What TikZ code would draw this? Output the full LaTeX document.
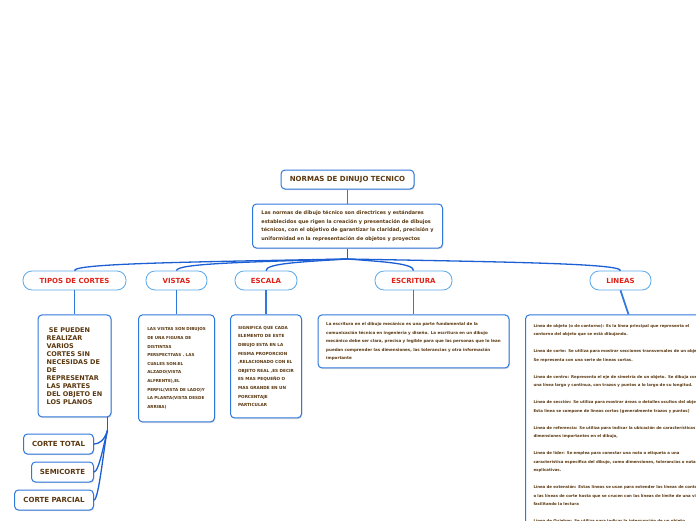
\documentclass[tikz,border=0pt]{standalone}
\usepackage{fontspec}
\setmainfont{DejaVu Sans}
\usepackage{xcolor}
\usetikzlibrary{positioning, calc, shadows}

\definecolor{boxblue}{HTML}{2F78DC}
\definecolor{pillblue}{HTML}{5AA8EA}
\definecolor{linkblue}{HTML}{1C5FD4}
\definecolor{txtbrown}{HTML}{5A3810}
\definecolor{txtred}{HTML}{E0231A}

\begin{document}
\begin{tikzpicture}[
  x=1pt, y=-1pt,
  node distance=14pt,
  soft/.style={drop shadow={shadow xshift=0.8pt, shadow yshift=-1.2pt, opacity=0.25, fill=black!60}},
  topic/.style={rectangle, rounded corners=4pt, draw=boxblue, line width=1pt, fill=white, soft,
                minimum width=133pt, minimum height=19pt, inner sep=2pt,
                font=\bfseries\fontsize{7}{8}\selectfont, text=txtbrown},
  intro/.style={rectangle, rounded corners=4pt, draw=boxblue, line width=1pt, fill=white, soft,
                minimum width=190pt, minimum height=44pt, align=left, inner xsep=4pt,
                font=\bfseries\fontsize{4.95}{8.9}\selectfont, text=txtbrown},
  branch/.style={rectangle, rounded corners=9pt, draw=pillblue, line width=0.8pt, fill=white,
                 minimum height=19pt, inner sep=2pt,
                 font=\bfseries\fontsize{7}{8}\selectfont, text=txtred},
  leaf/.style={rectangle, rounded corners=4pt, draw=boxblue, line width=1pt, fill=white, soft,
               align=left, inner xsep=3pt, text=txtbrown, font=\bfseries\fontsize{4.1}{8.6}\selectfont},
  cut/.style={rectangle, rounded corners=4pt, draw=boxblue, line width=1pt, fill=white, soft,
              minimum height=20pt, anchor=east, inner sep=2pt,
              font=\bfseries\fontsize{7}{8}\selectfont, text=txtbrown},
  link/.style={draw=linkblue, line width=1.3pt},
  stem/.style={draw=boxblue, line width=1.7pt}
]
  \useasboundingbox (0,0) rectangle (696,520);
  \clip (0,0) rectangle (696,520);

  % centro
  \node[topic] (title) at (347.5,179.5) {NORMAS DE DINUJO TECNICO};
  \node[intro, below=of title] (intro) {Las normas de dibujo técnico son directrices y estándares\\
    establecidos que rigen la creación y presentación de dibujos\\
    técnicos, con el objetivo de garantizar la claridad, precisión y\\
    uniformidad en la representación de objetos y proyectos};
  \coordinate (hub) at (347.5,259);

  % ramas
  \node[branch, minimum width=103pt] (tipos) at (74.5,280.5) {TIPOS DE CORTES};
  \node[branch, minimum width=61pt] (vistas) at (176.5,280.5) {VISTAS};
  \node[branch, minimum width=62pt] (escala) at (266,280.5) {ESCALA};
  \node[branch, minimum width=77pt] (escritura) at (413.5,280.5) {ESCRITURA};
  \node[branch, minimum width=61pt] (lineas) at (620.5,280.5) {LINEAS};

  % contenidos
  \node[leaf, below=24pt of tipos, minimum width=73pt, minimum height=102pt,
        font=\bfseries\fontsize{6.5}{8}\selectfont] (tiposdesc) {~SE PUEDEN\\ REALIZAR\\ VARIOS\\
    CORTES SIN\\ NECESIDAS DE\\ DE\\ REPRESENTAR\\ LAS PARTES\\ DEL OBJETO EN\\ LOS PLANOS};
  \node[leaf, below=24pt of vistas, minimum width=76pt, minimum height=107pt] (vistasdesc) {LAS VISTAS SON DIBUJOS\\
    DE UNA FIGURA DE\\ DISTINTAS\\ PERSPECTIVAS . LAS\\ CUALES SON:EL\\ ALZADO(VISTA\\
    ALFRENTE),EL\\ PERFIL(VISTA DE LADO)Y\\ LA PLANTA(VISTA DESDE\\ ARRIBA)};
  \node[leaf, below=24pt of escala, minimum width=71pt, minimum height=103pt,
        font=\bfseries\fontsize{4.2}{8.6}\selectfont] (escaladesc) {SIGNIFICA QUE CADA\\
    ELEMENTO DE ESTE\\ DIBUJO ESTA EN LA\\ MISMA PROPORCION\\ ,RELACIONADO CON EL\\
    OBJETO REAL ,ES DECIR\\ ES MAS PEQUEÑO O\\ MAS GRANDE EN UN\\ PORCENTAJE\\ PARTICULAR};
  \node[leaf, below=24pt of escritura, minimum width=191pt, minimum height=53pt,
        font=\bfseries\fontsize{4.05}{8.5}\selectfont] (escrituradesc) {La escritura en el dibujo mecánico es una parte fundamental de la\\
    comunicación técnica en ingeniería y diseño. La escritura en un dibujo\\
    mecánico debe ser clara, precisa y legible para que las personas que lo lean\\
    puedan comprender las dimensiones, las tolerancias y otra información\\
    importante};
  \node[leaf, anchor=north west, text width=190pt, inner xsep=8pt, inner ysep=9pt,
        font=\bfseries\fontsize{3.9}{8.5}\selectfont] (lineasdesc) at ($(lineas.south)+(-95.5,24)$) {Línea de objeto (o de contorno): Es la línea principal que representa el\\
    contorno del objeto que se está dibujando.\\[8.5pt]
    Línea de corte: Se utiliza para mostrar secciones transversales de un objeto.\\
    Se representa con una serie de líneas cortas.\\[8.5pt]
    Línea de centro: Representa el eje de simetría de un objeto. Se dibuja como\\
    una línea larga y continua, con trazos y puntos a lo largo de su longitud.\\[8.5pt]
    Línea de sección: Se utiliza para mostrar áreas o detalles ocultos del objeto.\\
    Esta línea se compone de líneas cortas (generalmente trazos y puntos)\\[8.5pt]
    Línea de referencia: Se utiliza para indicar la ubicación de características o\\
    dimensiones importantes en el dibujo,\\[8.5pt]
    Línea de líder: Se emplea para conectar una nota o etiqueta a una\\
    característica específica del dibujo, como dimensiones, tolerancias o notas\\
    explicativas.\\[8.5pt]
    Línea de extensión: Estas líneas se usan para extender las líneas de contorno\\
    o las líneas de corte hasta que se crucen con las líneas de límite de una vista,\\
    facilitando la lectura\\[8.5pt]
    Línea de Quiebre: Se utiliza para indicar la interrupción de un objeto};

  % tipos de corte
  \node[cut, minimum width=70pt] (total) at (94,444) {CORTE TOTAL};
  \node[cut, minimum width=62pt] (semi) at (94,472) {SEMICORTE};
  \node[cut, minimum width=79pt] (parcial) at (94,500) {CORTE PARCIAL};
  \coordinate (fork) at ($(tiposdesc.south east)+(-4,13)$);

  % conectores
  \draw[stem] (title) -- (intro);
  \draw[link] (intro.south) -- (hub);
  \foreach \b in {tipos,vistas,escala,escritura,lineas}
    \draw[link] (hub) .. controls ($(hub)!0.6!(hub -| \b.north)+(0,3)$) and ($(\b.north)+(0,-7)$) .. (\b.north);
  \foreach \b in {tipos,vistas,escala,escritura,lineas}
    \draw[stem] (\b.south) -- (\b desc.north);
  \draw[link] (tiposdesc.south -| fork) -- (fork);
  \foreach \c in {total,semi,parcial}
    \draw[link] (fork) .. controls ($(fork)+(-3,10)$) and ($(\c.east)+(5,0)$) .. (\c.east);
\end{tikzpicture}
\end{document}
